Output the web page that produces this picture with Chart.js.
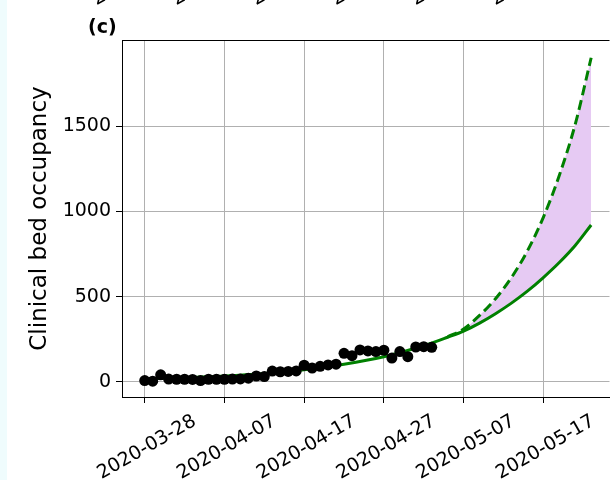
<!DOCTYPE html>
<html>
<head>
<meta charset="utf-8">
<script src="https://cdn.jsdelivr.net/npm/chart.js@4.4.1/dist/chart.umd.min.js"></script>
<style>
  html, body { margin: 0; padding: 0; background: #fff; overflow: hidden; }
  .strip { position: absolute; left: 0; top: 0; width: 7px; height: 480px; background: #effcfd; }
  #wrap { position: absolute; left: 0; top: 0; width: 615px; height: 480px; }
</style>
</head>
<body>
<div class="strip"></div>
<div id="wrap"><canvas id="bedChart" width="615" height="480"></canvas></div>
<script>
// observed clinical bed occupancy, one value per day
const startDate = '2020-03-28';
const obsDates = [
  '2020-03-28', '2020-03-29', '2020-03-30', '2020-03-31', '2020-04-01', '2020-04-02',
  '2020-04-03', '2020-04-04', '2020-04-05', '2020-04-06', '2020-04-07', '2020-04-08',
  '2020-04-09', '2020-04-10', '2020-04-11', '2020-04-12', '2020-04-13', '2020-04-14',
  '2020-04-15', '2020-04-16', '2020-04-17', '2020-04-18', '2020-04-19', '2020-04-20',
  '2020-04-21', '2020-04-22', '2020-04-23', '2020-04-24', '2020-04-25', '2020-04-26',
  '2020-04-27', '2020-04-28', '2020-04-29', '2020-04-30', '2020-05-01', '2020-05-02',
  '2020-05-03'
];
const obsBeds = [
  8, 5, 42, 17, 16, 16,
  15, 8, 16, 16, 16, 17,
  18, 22, 35, 32, 64, 60,
  62, 65, 98, 82, 92, 100,
  104, 168, 154, 188, 182, 178,
  186, 140, 178, 148, 205, 207,
  203
];

// model fit (solid) and upper projection (dashed)
const fitDates = [
  '2020-03-28', '2020-04-02', '2020-04-07', '2020-04-12', '2020-04-17', '2020-04-22',
  '2020-04-27', '2020-05-02', '2020-05-05', '2020-05-07', '2020-05-09', '2020-05-11',
  '2020-05-13', '2020-05-15', '2020-05-17', '2020-05-19', '2020-05-21', '2020-05-23'
];
const fitBeds = [
  18, 25, 35, 50, 72, 104,
  148, 212, 262, 298, 345, 400,
  462, 532, 612, 700, 800, 920
];
const upperDates = [
  '2020-05-05', '2020-05-07', '2020-05-09', '2020-05-11', '2020-05-13',
  '2020-05-15', '2020-05-17', '2020-05-19', '2020-05-21', '2020-05-23'
];
const upperBeds = [265, 310, 390, 488, 612, 768, 965, 1210, 1510, 1900];

const tickDays = [0, 10, 20, 30, 40, 50];
const tickLabels = ['2020-03-28', '2020-04-07', '2020-04-17', '2020-04-27', '2020-05-07', '2020-05-17'];
const yTicks = [0, 500, 1000, 1500];

const labelShift = 50;

function dayOf(s) {
  return (Date.parse(s) - Date.parse(startDate)) / 86400000;
}
function toPoints(dates, vals) {
  return dates.map((d, i) => ({ x: dayOf(d), y: vals[i] }));
}

const panelExtras = {
  id: 'panelExtras',
  afterDraw(chart) {
    const { ctx, chartArea, scales } = chart;
    ctx.save();
    // top frame line
    ctx.strokeStyle = '#000';
    ctx.lineWidth = 1;
    ctx.beginPath();
    ctx.moveTo(chartArea.left, chartArea.top + 0.5);
    ctx.lineTo(chartArea.right, chartArea.top + 0.5);
    ctx.stroke();

    ctx.fillStyle = '#000';
    ctx.font = 'bold 19px "DejaVu Sans"';
    ctx.textAlign = 'left';
    ctx.textBaseline = 'alphabetic';
    ctx.fillText('(c)', 88, 33);

    // date labels of the panel above, mostly off the top edge
    ctx.font = '19px "DejaVu Sans"';
    ctx.textAlign = 'right';
    ctx.textBaseline = 'middle';
    tickDays.forEach((d, i) => {
      const x = scales.x.getPixelForValue(d) + labelShift - 5;
      ctx.save();
      ctx.translate(x, -54);
      ctx.rotate(-Math.PI / 6);
      ctx.fillText(tickLabels[i], 0, 0);
      ctx.restore();
    });
    ctx.restore();
  }
};

const ctx = document.getElementById('bedChart').getContext('2d');
new Chart(ctx, {
  type: 'line',
  data: {
    datasets: [
      {
        label: 'Observed',
        data: toPoints(obsDates, obsBeds),
        showLine: false,
        pointRadius: 5.5,
        pointBackgroundColor: '#000',
        pointBorderWidth: 0,
        order: 0
      },
      {
        label: 'Fit',
        data: toPoints(fitDates, fitBeds),
        borderColor: '#008000',
        borderWidth: 3,
        pointRadius: 0,
        cubicInterpolationMode: 'monotone',
        fill: false,
        order: 1
      },
      {
        label: 'Upper',
        data: toPoints(upperDates, upperBeds),
        borderColor: '#008000',
        borderWidth: 3,
        borderDash: [10, 5],
        pointRadius: 0,
        cubicInterpolationMode: 'monotone',
        fill: 1,
        backgroundColor: '#e6caf3',
        order: 2
      }
    ]
  },
  options: {
    responsive: false,
    animation: false,
    layout: { padding: { top: 40, left: 0, right: 0, bottom: 0 } },
    plugins: {
      legend: { display: false },
      tooltip: { enabled: false }
    },
    scales: {
      x: {
        type: 'linear',
        min: -2.85,
        max: 58.3,
        afterBuildTicks: scale => { scale.ticks = tickDays.map(v => ({ value: v })); },
        afterFit: scale => { scale.height = 83; },
        grid: { color: '#b0b0b0', tickColor: '#000', tickLength: 6 },
        border: { color: '#000', width: 1 },
        ticks: {
          autoSkip: false,
          minRotation: 30,
          maxRotation: 30,
          labelOffset: labelShift,
          padding: 7,
          color: '#000',
          font: { family: 'DejaVu Sans', size: 19 },
          callback: v => tickLabels[tickDays.indexOf(v)] || ''
        }
      },
      y: {
        min: -88,
        max: 2004,
        afterBuildTicks: scale => { scale.ticks = yTicks.map(v => ({ value: v })); },
        afterFit: scale => { scale.width = 122; },
        grid: { color: '#b0b0b0', tickColor: '#000', tickLength: 6 },
        border: { color: '#000', width: 1 },
        ticks: {
          padding: 5,
          color: '#000',
          font: { family: 'DejaVu Sans', size: 19 },
          callback: v => String(v)
        },
        title: {
          display: true,
          text: 'Clinical bed occupancy',
          color: '#000',
          font: { family: 'DejaVu Sans', size: 23 },
          padding: { top: 26, bottom: 0 }
        }
      }
    }
  },
  plugins: [panelExtras]
});
</script>
</body>
</html>
